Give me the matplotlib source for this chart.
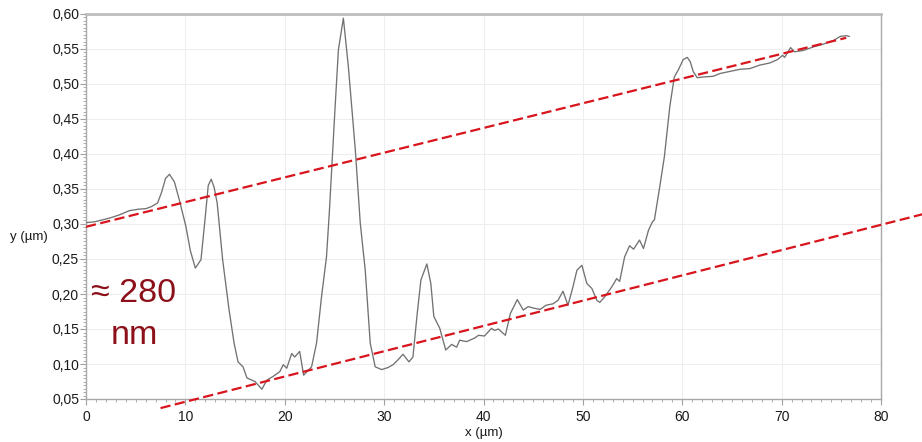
import matplotlib
matplotlib.use("Agg")
import matplotlib.pyplot as plt
from matplotlib.ticker import MultipleLocator, FuncFormatter

plt.rcParams['font.family'] = ['Liberation Sans', 'DejaVu Sans']

# height profile (x in um, y in um)
profile_x = [0.0, 0.8, 1.7, 2.5, 3.35, 4.36, 5.2, 6.04, 6.6, 7.2, 7.6, 8.0, 8.4, 8.9, 9.4,
             10.06, 10.5, 11.0, 11.57, 12.0, 12.3, 12.6, 12.9, 13.2, 13.75, 14.4, 14.9,
             15.3, 15.8, 16.2, 17.0, 17.7, 18.2, 18.8, 19.5, 19.85, 20.2, 20.7, 21.0,
             21.5, 21.9, 22.7, 23.2, 23.7, 24.2, 24.5, 25.05, 25.4, 25.9, 26.4, 27.1,
             27.6, 28.1, 28.6, 29.1, 29.75, 30.4, 30.9, 31.4, 31.9, 32.5, 32.9, 33.3,
             33.7, 34.3, 34.7, 35.0, 35.6, 36.2, 36.8, 37.3, 37.6, 38.3, 39.1, 39.5,
             40.1, 40.8, 41.1, 41.5, 42.2, 42.7, 43.4, 44.0, 44.5, 45.0, 45.7, 46.3,
             47.0, 47.5, 48.0, 48.5, 49.0, 49.4, 49.9, 50.4, 50.9, 51.4, 51.7, 52.2,
             52.9, 53.4, 53.7, 54.2, 54.7, 55.1, 55.7, 56.1, 56.6, 57.0, 57.2, 57.7,
             58.2, 58.75, 59.2, 59.6, 60.1, 60.5, 60.8, 61.1, 61.5, 62.1, 63.1, 63.8,
             64.8, 65.8, 66.8, 67.8, 68.8, 69.6, 70.1, 70.3, 70.9, 71.3, 72.2, 73.2,
             74.2, 75.2, 75.9, 76.5, 76.8]
profile_y = [0.302, 0.303, 0.306, 0.309, 0.313, 0.319, 0.321, 0.322, 0.325, 0.330, 0.345,
             0.365, 0.371, 0.360, 0.334, 0.296, 0.262, 0.237, 0.249, 0.310, 0.355, 0.364,
             0.352, 0.330, 0.249, 0.177, 0.130, 0.103, 0.096, 0.080, 0.075, 0.064, 0.077,
             0.082, 0.089, 0.099, 0.094, 0.115, 0.110, 0.118, 0.084, 0.096, 0.130, 0.196,
             0.253, 0.320, 0.463, 0.549, 0.594, 0.525, 0.406, 0.301, 0.234, 0.130, 0.096,
             0.092, 0.095, 0.099, 0.106, 0.114, 0.103, 0.110, 0.168, 0.220, 0.243, 0.215,
             0.168, 0.151, 0.120, 0.128, 0.124, 0.134, 0.132, 0.137, 0.141, 0.140, 0.151,
             0.148, 0.150, 0.141, 0.172, 0.192, 0.177, 0.182, 0.180, 0.178, 0.184, 0.186,
             0.191, 0.204, 0.184, 0.210, 0.234, 0.241, 0.215, 0.208, 0.191, 0.188, 0.196,
             0.210, 0.222, 0.218, 0.253, 0.269, 0.264, 0.277, 0.265, 0.291, 0.303, 0.306,
             0.350, 0.396, 0.468, 0.510, 0.520, 0.535, 0.538, 0.532, 0.518, 0.509, 0.510,
             0.511, 0.515, 0.518, 0.521, 0.522, 0.527, 0.530, 0.535, 0.541, 0.538, 0.552,
             0.546, 0.548, 0.553, 0.557, 0.562, 0.568, 0.569, 0.568]

# the two parallel guide lines
upper_x = [0.0, 76.5]
upper_y = [0.296, 0.566]
lower_x = [7.5, 84.2]
lower_y = [0.037, 0.314]

step_label = ["\u2248 280", "nm"]

fig = plt.figure(figsize=(9.22, 4.42), dpi=100)
ax = fig.add_axes([86 / 922, 43 / 442, 795 / 922, 385 / 442])

ax.plot(profile_x, profile_y, color='#727272', lw=0.95, zorder=3)
red = '#d8141c'
ax.plot(upper_x, upper_y, color=red, lw=1.6, dashes=(4.6, 2.0), zorder=4)
ax.plot(lower_x, lower_y, color=red, lw=1.6, dashes=(4.6, 2.0), zorder=4, clip_on=False)

ax.set_xlim(0, 80)
ax.set_ylim(0.05, 0.60)
ax.xaxis.set_major_locator(MultipleLocator(10))
ax.xaxis.set_minor_locator(MultipleLocator(1))
ax.yaxis.set_major_locator(MultipleLocator(0.05))
ax.yaxis.set_minor_locator(MultipleLocator(0.005))
ax.yaxis.set_major_formatter(FuncFormatter(lambda v, p: f"{v:.2f}".replace('.', ',')))

ax.grid(True, which='major', color='#eeeeee', lw=0.8, zorder=0)
ax.set_axisbelow(True)

for s in ['left', 'bottom', 'right']:
    ax.spines[s].set_color('#a8a8a8')
    ax.spines[s].set_linewidth(1.0)
ax.spines['top'].set_color('#bdbdbd')
ax.spines['top'].set_linewidth(2.0)

ax.tick_params(which='major', length=4, width=0.8, color='#a0a0a0',
               labelsize=10, labelcolor='#1a1a1a')
ax.tick_params(which='minor', length=2.5, width=0.6, color='#a0a0a0')
ax.tick_params(axis='y', pad=1)
ax.tick_params(axis='x', pad=4)

ax.set_xlabel("x (\u00b5m)", fontsize=9.5, color='#1a1a1a', labelpad=2)
fig.text(29 / 922, 1 - 237 / 442, "y (\u00b5m)", fontsize=9.5, color='#1a1a1a',
         ha='center', va='center')

dark_red = '#8c1019'
fig.text(134 / 922, 1 - 302 / 442, step_label[0], fontsize=24.5, color=dark_red,
         ha='center', va='baseline')
fig.text(134 / 922, 1 - 344 / 442, step_label[1], fontsize=24.5, color=dark_red,
         ha='center', va='baseline')

fig.savefig("out.png", dpi=100)
